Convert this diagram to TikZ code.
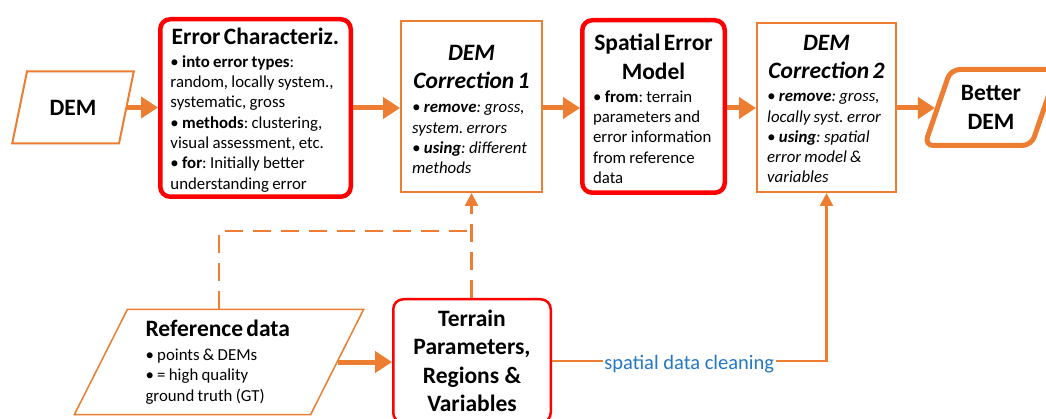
\documentclass[tikz,border=0pt]{standalone}
\usepackage{fontspec}
\setmainfont{Carlito}
\usetikzlibrary{arrows.meta,shapes.geometric}
\definecolor{ora}{HTML}{ED7D31}
\definecolor{rd}{HTML}{FF0000}
\definecolor{bl}{RGB}{36,120,196}
\newcommand\ttlfont{\fontsize{23.5}{28.5}\selectfont\bfseries}
\newcommand\bdyfont{\fontsize{16.8}{20.3}\selectfont}
\setlength{\parindent}{0pt}
\frenchspacing
\newlength\tmpw
\newlength\wErr \newlength\wCa \newlength\wSem \newlength\wCb \newlength\wRef
\newcommand\wmax[2]{\settowidth{\tmpw}{#2}\ifdim\tmpw>#1\setlength{#1}{\tmpw}\fi}
\begin{document}
\frenchspacing
\wmax\wErr{\ttlfont Error Characteriz.}\wmax\wErr{\bdyfont random, locally system.,}%
\wmax\wCa{\ttlfont\itshape Correction 1}\wmax\wCa{\bdyfont\itshape • \textbf{using}: different}%
\wmax\wSem{\ttlfont Spatial Error}\wmax\wSem{\bdyfont error information}%
\wmax\wCb{\ttlfont\itshape Correction 2}\wmax\wCb{\bdyfont\itshape locally syst. error}%
\wmax\wRef{\ttlfont Reference data}\wmax\wRef{\bdyfont ground truth (GT)}%
\addtolength{\wErr}{0.5pt}\addtolength{\wCa}{0.5pt}\addtolength{\wSem}{0.5pt}%
\addtolength{\wCb}{0.5pt}\addtolength{\wRef}{0.5pt}%
\begin{tikzpicture}[x=1pt,y=-1pt,
  redbox/.style={draw=rd, line width=4.5pt, rounded corners=10pt, inner sep=0pt, align=left, fill=white},
  thinred/.style={draw=rd, line width=2.5pt, rounded corners=10pt, inner sep=0pt, align=center, font=\ttlfont},
  orabox/.style={draw=ora, line width=2pt, inner sep=0pt, align=left},
  para/.style={trapezium, trapezium stretches=true, draw=ora, inner sep=0pt},
  bigarrow/.style={draw=ora, line width=5pt, -{Triangle[length=17pt,width=21pt]}},
  thinarrow/.style={draw=ora, line width=2.5pt, -{Triangle[length=13pt,width=13pt]}},
  dashline/.style={draw=ora, line width=2.5pt, dash pattern=on 18pt off 10pt},
  lbl/.style={text=bl, fill=white, inner sep=1.5pt, font=\fontsize{20.5}{24}\selectfont}
]
\clip (0,0) rectangle (1046,419);

% top row
\node[para, line width=2pt, trapezium left angle=63.7, trapezium right angle=116.3,
      minimum width=122pt, minimum height=72pt, font=\ttlfont]
      (dem) at (73,107.5) {DEM};

\node[redbox, minimum width=190.5pt, minimum height=177.5pt, text width=\wErr] (err) at (255.5,108)
 {{\centering\ttlfont Error Characteriz.\par}\vspace{2.7pt}\bdyfont
  • \textbf{into error types}:\\random, locally system.,\\systematic, gross\\%
  • \textbf{methods}: clustering,\\visual assessment, etc.\\%
  • \textbf{for}: Initially better\\understanding error\par\kern-4pt};

\node[orabox, minimum width=141pt, minimum height=171pt, text width=\wCa] (c1) at (471.5,106.5)
 {{\centering\ttlfont\itshape DEM\\Correction 1\par}\vspace{3.7pt}\bdyfont\itshape
  • \textbf{remove}: gross,\\system. errors\\• \textbf{using}: different\\methods\par\kern-6pt};

\node[redbox, minimum width=142.5pt, minimum height=172.5pt, text width=\wSem] (sem) at (653.5,106.5)
 {{\centering\ttlfont Spatial Error\\Model\par}\vspace{2.7pt}\bdyfont
  • \textbf{from}: terrain\\parameters and\\error information\\from reference\\data\par\kern-5pt};

\node[orabox, minimum width=139pt, minimum height=169pt, text width=\wCb] (c2) at (826.5,107.5)
 {{\centering\ttlfont\itshape DEM\\Correction 2\par}\vspace{2.7pt}\bdyfont\itshape
  • \textbf{remove}: gross,\\locally syst. error\\• \textbf{using}: spatial\\error model \&\\variables\par\kern-3pt};

\node[para, line width=5pt, rounded corners=9pt, trapezium left angle=65.9, trapezium right angle=114.1,
      minimum width=134pt, minimum height=76pt, align=center, font=\ttlfont]
      (bdem) at (991,107.5) {Better\\DEM};

% bottom row
\node[para, line width=1.5pt, trapezium left angle=63.2, trapezium right angle=116.8,
      minimum width=290pt, minimum height=105pt, text width=\wRef, align=left]
      (ref) at (219,362) {{\ttlfont Reference data\par}\vspace{3.7pt}\bdyfont
  • points \& DEMs\\• = high quality\\ground truth (GT)\par};

\node[thinred, minimum width=157.5pt, minimum height=123.5pt] (terr) at (472,361)
 {Terrain\\Parameters,\\Regions \&\\Variables};

\coordinate (jn) at (471.5,231);

% connectors
\draw[bigarrow] (dem.east) -- (dem.east -| err.west);
\draw[bigarrow] (err.east) -- (err.east -| c1.west);
\draw[bigarrow] (c1.east |- 0,108) -- (sem.west |- 0,108);
\draw[bigarrow] (sem.east |- 0,108) -- (c2.west |- 0,108);
\draw[bigarrow] (c2.east |- 0,108) -- (bdem.west |- 0,108);
\draw[bigarrow] (ref.east) -- (ref.east -| terr.west);

\draw[dashline] (ref.north -| ref.center) |- (jn);
\draw[dashline, -{Triangle[length=13pt,width=13pt]}] (terr.north -| c1.south) -- (c1.south);

\draw[thinarrow] (terr.east) -| node[lbl, pos=0.25, yshift=-3pt] {spatial data cleaning} (c2.south);
\end{tikzpicture}
\end{document}
